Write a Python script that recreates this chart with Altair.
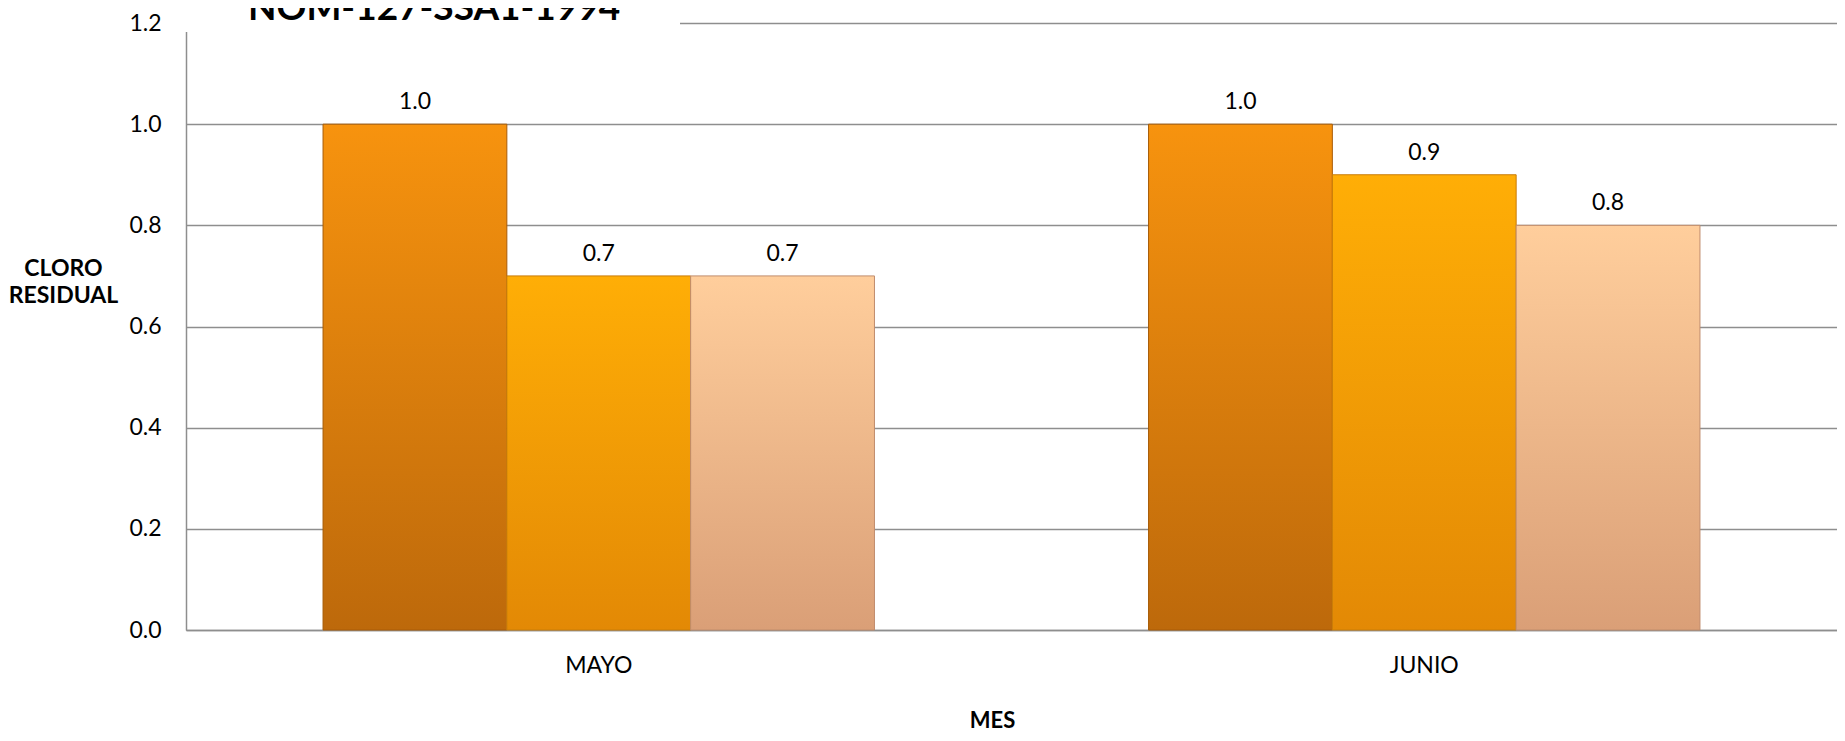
import altair as alt
import pandas as pd

# ---- data ----
meses = ["MAYO", "JUNIO"]
series = ["Punto 1", "Punto 2", "Punto 3"]
valores_p1 = [1.0, 1.0]
valores_p2 = [0.7, 0.9]
valores_p3 = [0.7, 0.8]
titulo = "NOM-127-SSA1-1994"
y_ticks = [0.0, 0.2, 0.4, 0.6, 0.8, 1.0, 1.2]

rows = []
for serie, vals in zip(series, [valores_p1, valores_p2, valores_p3]):
    for mes, v in zip(meses, vals):
        rows.append({"mes": mes, "serie": serie, "valor": v})
df = pd.DataFrame(rows)

FONT = "Lato"

gradients = {
    "Punto 1": ("#F7930E", "#BD690B", "#A85C08"),
    "Punto 2": ("#FFAE06", "#E38905", "#C97C08"),
    "Punto 3": ("#FFCE9C", "#DA9F77", "#C08C6C"),
}

x_enc = alt.X(
    "mes:N",
    sort=meses,
    scale=alt.Scale(paddingInner=0.332, paddingOuter=0.166),
    axis=alt.Axis(
        title="MES",
        titleFont=FONT,
        titleFontSize=22,
        titleFontWeight="bold",
        titleColor="black",
        titleX=806,
        titleY=90,
        titleAlign="center",
        titleBaseline="middle",
        labelFont=FONT,
        labelFontSize=23,
        labelColor="black",
        labelAngle=0,
        labelBaseline="middle",
        labelPadding=35,
        ticks=False,
        domainColor="#8E8E8E",
        domainWidth=1.5,
        grid=False,
    ),
)
y_enc = alt.Y(
    "valor:Q",
    scale=alt.Scale(domain=[0, 1.2], nice=False),
    axis=alt.Axis(
        values=y_ticks,
        format=".1f",
        title=["CLORO", "RESIDUAL"],
        titleFont=FONT,
        titleFontSize=23,
        titleFontWeight="bold",
        titleColor="black",
        titleAngle=0,
        titleX=-123,
        titleY=245,
        titleAlign="center",
        titleBaseline="middle",
        titleLineHeight=27,
        labelFont=FONT,
        labelFontSize=23,
        labelColor="black",
        labelPadding=25,
        ticks=False,
        domainColor="#8E8E8E",
        domainWidth=1.5,
        grid=True,
        gridColor="#8E8E8E",
        gridWidth=1.5,
    ),
)
xoff = alt.XOffset("serie:N", scale=alt.Scale(domain=series, paddingInner=0, paddingOuter=0))

base = alt.Chart(df)
layers = []
for s in series:
    top, bottom, stroke = gradients[s]
    layers.append(
        base.transform_filter(alt.datum.serie == s)
        .mark_bar(
            color=alt.Gradient(
                gradient="linear",
                stops=[
                    alt.GradientStop(color=top, offset=0),
                    alt.GradientStop(color=bottom, offset=1),
                ],
                x1=0, x2=0, y1=0, y2=1,
            ),
            stroke=stroke,
            strokeWidth=1,
        )
        .encode(x=x_enc, xOffset=xoff, y=y_enc)
    )

labels = base.mark_text(
    font=FONT, fontSize=23, color="black", baseline="middle", dy=-22
).encode(
    x=alt.X("mes:N", sort=meses),
    xOffset=alt.XOffset("serie:N"),
    y="valor:Q",
    text=alt.Text("valor:Q", format=".1f"),
)

cover = alt.Chart(alt.Data(values=[{"k": 1}])).mark_rect(color="white").encode(
    x=alt.value(-4), x2=alt.value(494), y=alt.value(-16), y2=alt.value(9)
)

title_txt = alt.Chart(alt.Data(values=[{"t": titulo}])).mark_text(
    font=FONT, fontSize=37, fontWeight="bold", color="black",
    align="left", baseline="alphabetic",
).encode(x=alt.value(62), y=alt.value(-3), text="t:N")

chart = (
    alt.layer(*layers, labels, cover, title_txt)
    .properties(
        width=1651,
        height=607,
        autosize=alt.AutoSizeParams(type="none"),
        padding={"left": 178, "top": 15, "right": 0, "bottom": 103},
    )
    .configure_view(stroke=None)
    .configure(background="white")
)

chart.save("out.html", embed_options={"renderer": "svg", "actions": False})
